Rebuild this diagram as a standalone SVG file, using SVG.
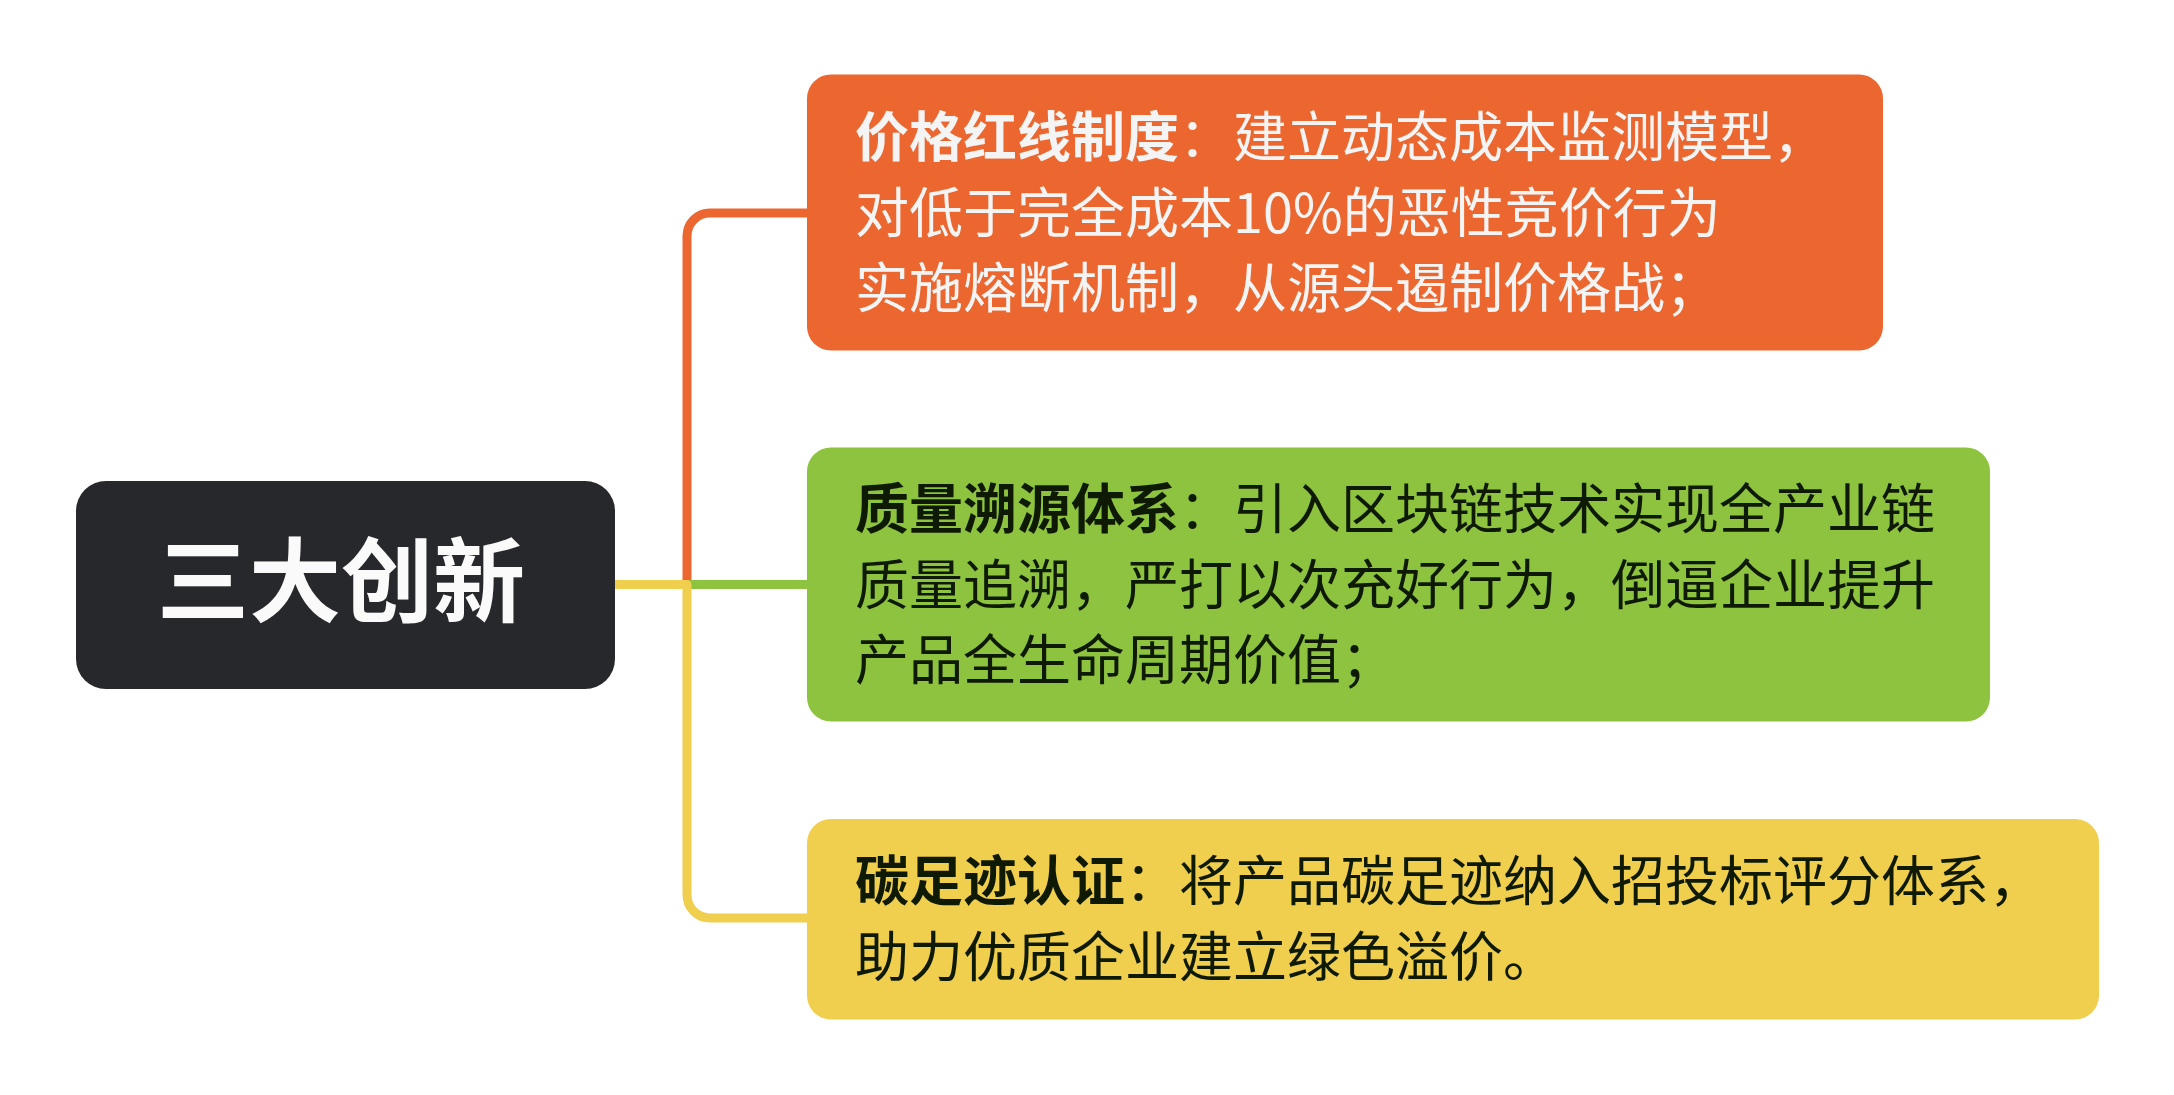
<svg xmlns="http://www.w3.org/2000/svg" width="2174" height="1095" viewBox="0 0 2174 1095">
<style>
.t{font-family:"Noto Sans CJK SC","Noto Sans",sans-serif;font-size:54px}
.b{font-weight:700}
.light{fill:#F4F4F4}
.dark{fill:#0E1A04}
.conn{fill:none;stroke-width:9;stroke-linecap:butt;stroke-linejoin:round}
</style>
<rect width="2174" height="1095" fill="#FFFFFF"/>
<g id="connectors">
<path class="conn" stroke="#EC6730" d="M687 589 V236 A23 23 0 0 1 710 213 H807"/>
<path class="conn" stroke="#8DC33F" d="M687 584.5 H807"/>
<path class="conn" stroke="#F0CE4E" d="M615 584.5 H687 V895 A23 23 0 0 0 710 918 H807"/>
</g>
<g id="root">
<rect x="76" y="481" width="539" height="208" rx="30" fill="#27282C"/>
<text x="341" y="615" text-anchor="middle" font-family="Noto Sans CJK SC, sans-serif" font-size="92" font-weight="700" fill="#FAFAFA">三大创新</text>
</g>
<g id="node-price">
<rect x="807" y="74.5" width="1076" height="276" rx="24" fill="#EC6730"/>
<text class="t light" x="855" y="157"><tspan class="b">价格红线制度</tspan>：建立动态成本监测模型，</text>
<text class="t light" x="855" y="232.5">对低于完全成本10%的恶性竞价行为</text>
<text class="t light" x="855" y="308">实施熔断机制，从源头遏制价格战；</text>
</g>
<g id="node-quality">
<rect x="807" y="447.5" width="1183" height="274" rx="24" fill="#8DC33F"/>
<text class="t dark" x="855" y="529"><tspan class="b">质量溯源体系</tspan>：引入区块链技术实现全产业链</text>
<text class="t dark" x="855" y="604.5">质量追溯，严打以次充好行为，倒逼企业提升</text>
<text class="t dark" x="855" y="680">产品全生命周期价值；</text>
</g>
<g id="node-carbon">
<rect x="807" y="819" width="1292" height="200.5" rx="24" fill="#F0CE4E"/>
<text class="t dark" x="855" y="901"><tspan class="b">碳足迹认证</tspan>：将产品碳足迹纳入招投标评分体系，</text>
<text class="t dark" x="855" y="976.5">助力优质企业建立绿色溢价。</text>
</g>
</svg>
